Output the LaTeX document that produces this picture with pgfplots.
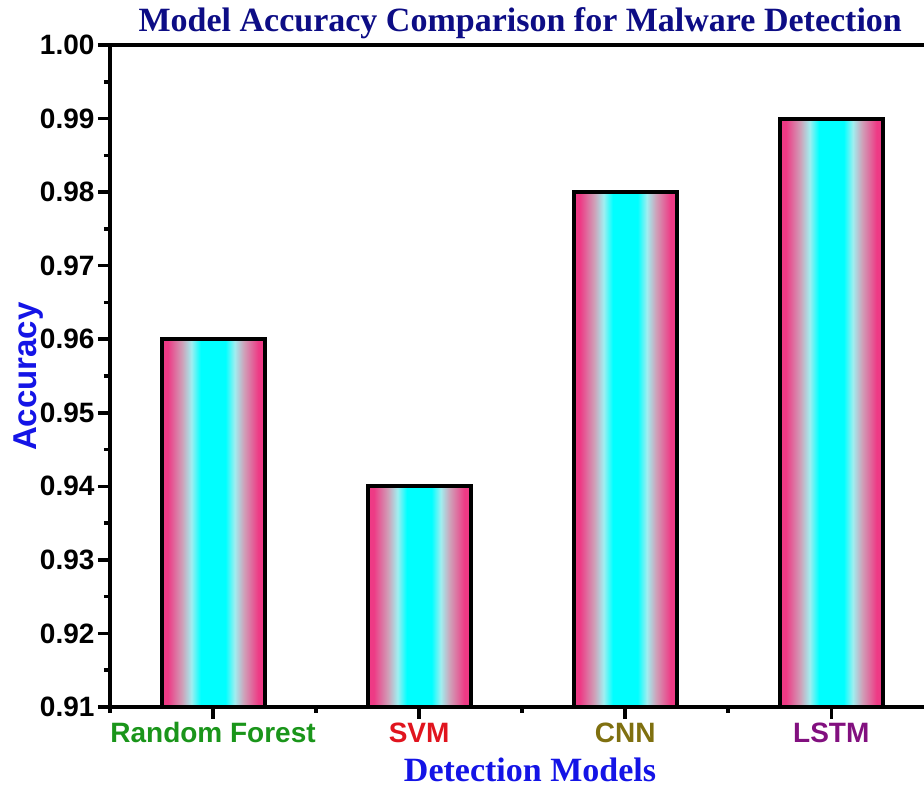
\documentclass[border=0pt]{standalone}
\usepackage{pgfplots}
\pgfplotsset{compat=1.18}
\usepackage{fontspec}
\setmainfont{Liberation Sans}
\newfontfamily\timesfont{Liberation Serif}
\definecolor{barpink}{HTML}{EE3A85}
\definecolor{pinkgray}{HTML}{CFA0B8}
\definecolor{lightcyan}{HTML}{A0EEF0}
\definecolor{barcyan}{HTML}{00FFFF}
\definecolor{titlenavy}{HTML}{0D0D85}
\definecolor{labblue}{HTML}{1414E6}
\definecolor{rfgreen}{HTML}{1A951A}
\definecolor{svmred}{HTML}{E0141E}
\definecolor{cnnolive}{HTML}{7F7010}
\definecolor{lstmpurple}{HTML}{82107F}
\pgfdeclarehorizontalshading{barshade}{100bp}{color(0bp)=(barpink); color(25bp)=(barpink); color(28bp)=(barpink); color(35bp)=(pinkgray); color(39.5bp)=(lightcyan); color(44bp)=(barcyan); color(56bp)=(barcyan); color(60.5bp)=(lightcyan); color(65bp)=(pinkgray); color(72bp)=(barpink); color(75bp)=(barpink); color(100bp)=(barpink)}
\pgfplotsset{gradbar/.style={ybar, bar width=0.5, bar shift=0pt, draw=black, line width=4pt,
  shade, shading=barshade}}
\begin{document}
\begin{tikzpicture}
\path[use as bounding box] (-110pt,-82pt) rectangle (814pt,707pt);
\begin{axis}[
  at={(0pt,0pt)}, anchor=south west,
  width=814pt, height=662pt, scale only axis,
  xmin=-0.5, xmax=3.45,
  ymin=0.91, ymax=1.00,
  axis x line=box, axis y line*=left,
  axis line style={line width=4pt},
  every tick/.style={line width=3.5pt, black},
  tick align=outside,
  major tick length=12pt, minor tick length=6pt,
  xtick={0,1,2,3}, xtick pos=bottom, ytick pos=left,
  minor xtick={-0.5,0.5,1.5,2.5},
  xticklabels={\textcolor{rfgreen}{Random Forest},\textcolor{svmred}{SVM},\textcolor{cnnolive}{CNN},\textcolor{lstmpurple}{LSTM}},
  ytick={0.91,0.92,...,1.001},
  minor y tick num=1,
  tick label style={font=\fontsize{28}{31}\selectfont\bfseries},
  /pgf/number format/assume math mode=true,
  yticklabel style={/pgf/number format/.cd, fixed, fixed zerofill, precision=2},
  title={\timesfont\bfseries Model Accuracy Comparison for Malware Detection},
  title style={font=\fontsize{34}{38}\selectfont, text=titlenavy, at={(axis description cs:0.504,1)}, anchor=base, yshift=7pt},
  xlabel={\timesfont\bfseries Detection Models},
  xlabel style={font=\fontsize{34}{38}\selectfont, text=labblue, at={(axis description cs:0.516,0)}, anchor=base, yshift=-75pt},
  ylabel={\bfseries Accuracy},
  ylabel style={font=\fontsize{33}{36}\selectfont, text=labblue, at={([xshift=-73pt]axis description cs:0,0.499)}, anchor=base},
  axis on top,
]
\addplot[gradbar] coordinates {(0,0.96)};
\addplot[gradbar] coordinates {(1,0.94)};
\addplot[gradbar] coordinates {(2,0.98)};
\addplot[gradbar] coordinates {(3,0.99)};
\end{axis}
\end{tikzpicture}
\end{document}
